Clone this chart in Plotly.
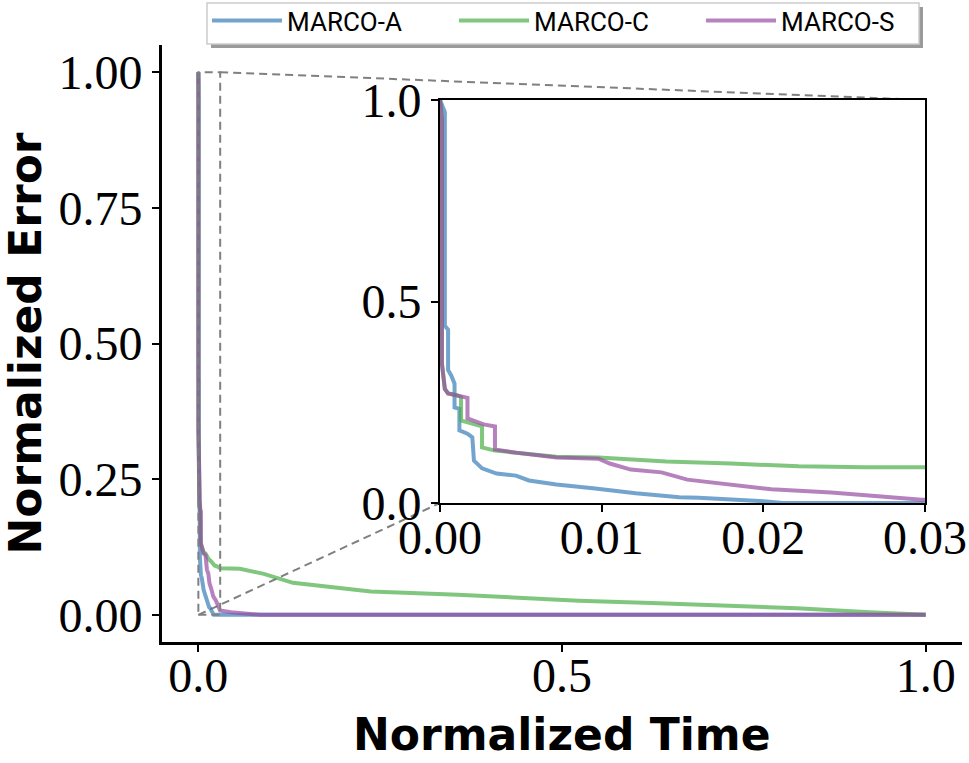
import plotly.graph_objects as go

# ---------------- data ----------------
series_names = ["MARCO-A", "MARCO-C", "MARCO-S"]

a_time = [0.0, 0.0003, 0.0003, 0.0005, 0.0005, 0.0007, 0.0009, 0.0009, 0.0012, 0.0012,
          0.0017, 0.0020, 0.0021, 0.0026, 0.0035, 0.0047, 0.0055, 0.0072, 0.0096, 0.0121,
          0.0148, 0.0160, 0.0202, 0.0212, 1.0]
a_error = [1.0, 0.97, 0.44, 0.43, 0.33, 0.316, 0.296, 0.237, 0.234, 0.180,
           0.172, 0.163, 0.105, 0.086, 0.073, 0.068, 0.056, 0.046, 0.036, 0.024,
           0.014, 0.013, 0.004, 0.0, 0.0]

c_time = [0.0, 0.00012, 0.00012, 0.0003, 0.0005, 0.001, 0.0013, 0.0013, 0.0026, 0.0026,
          0.0034, 0.0047, 0.0072, 0.0098, 0.014, 0.018, 0.0222, 0.0263, 0.0298, 0.057,
          0.09, 0.13, 0.163, 0.237, 0.357, 0.456, 0.523, 0.623, 0.723, 0.823, 0.923, 1.0]
c_error = [1.0, 0.95, 0.345, 0.283, 0.272, 0.268, 0.263, 0.205, 0.19, 0.138,
           0.13, 0.125, 0.115, 0.113, 0.103, 0.098, 0.091, 0.089, 0.086, 0.085,
           0.0755, 0.059, 0.054, 0.043, 0.037, 0.0295, 0.026, 0.022, 0.017, 0.012, 0.005, 0.0]

s_time = [0.0, 0.00012, 0.00012, 0.0003, 0.0005, 0.001, 0.0017, 0.0017, 0.0027, 0.0034,
          0.0034, 0.0047, 0.0072, 0.0098, 0.0105, 0.0118, 0.0137, 0.0153, 0.0177, 0.0205,
          0.0242, 0.027, 0.0298, 0.045, 0.068, 0.085, 1.0]
s_error = [1.0, 0.95, 0.345, 0.283, 0.272, 0.268, 0.261, 0.21, 0.195, 0.19,
           0.133, 0.125, 0.113, 0.11, 0.098, 0.083, 0.076, 0.058, 0.048, 0.034,
           0.026, 0.016, 0.008, 0.005, 0.002, 0.0, 0.0]

main_x_ticks = [0.0, 0.5, 1.0]
main_y_ticks = [0.0, 0.25, 0.5, 0.75, 1.0]
inset_x_ticks = [0.0, 0.01, 0.02, 0.03]
inset_y_ticks = [0.0, 0.5, 1.0]
x_title = "Normalized Time"
y_title = "Normalized Error"

# ---------------- styling / layout ----------------
colors = ["#377eb8", "#4daf4a", "#984ea3"]
W, H = 969, 763
L, R, T, B = 162, 7, 45, 121
pw, ph = W - L - R, H - T - B

main_xr = [-0.05, 1.05]
main_yr = [-0.05, 1.05]
inset_xr = [0.0, 0.03]
inset_yr = [0.0, 1.0]

# inset position in pixels (left, right, top, bottom)
ix0, ix1, iy0, iy1 = 440, 925, 100, 503
inset_xdom = [(ix0 - L) / pw, (ix1 - L) / pw]
inset_ydom = [(H - B - iy1) / ph, (H - B - iy0) / ph]

tick_font = dict(family="Liberation Serif", size=48, color="black")
title_font = dict(family="DejaVu Sans", size=44, color="black", weight="bold")


def px_x(p):
    return (p - L) / pw


def px_y(p):
    return (H - B - p) / ph


fig = go.Figure()
data = [(a_time, a_error), (c_time, c_error), (s_time, s_error)]
for name, (xs, ys), col in zip(series_names, data, colors):
    fig.add_trace(go.Scatter(x=xs, y=ys, mode="lines", name=name,
                             line=dict(color=col, width=4), opacity=0.7,
                             xaxis="x", yaxis="y"))
for name, (xs, ys), col in zip(series_names, data, colors):
    fig.add_trace(go.Scatter(x=xs, y=ys, mode="lines", name=name, showlegend=False,
                             line=dict(color=col, width=4), opacity=0.7,
                             xaxis="x2", yaxis="y2"))

fig.update_layout(
    width=W, height=H,
    margin=dict(l=L, r=R, t=T, b=B, autoexpand=False),
    plot_bgcolor="white", paper_bgcolor="white",
    xaxis=dict(domain=[0, 1], range=main_xr, tickvals=main_x_ticks,
               ticktext=[f"{v:.1f}" for v in main_x_ticks],
               showgrid=False, zeroline=False, showline=True, linecolor="black",
               linewidth=3, ticks="outside", ticklen=7, tickwidth=2, tickcolor="black",
               tickfont=tick_font, ticklabelstandoff=-18),
    yaxis=dict(domain=[0, 1], range=main_yr, tickvals=main_y_ticks,
               ticktext=[f"{v:.2f}" for v in main_y_ticks],
               showgrid=False, zeroline=False, showline=True, linecolor="black",
               linewidth=3, ticks="outside", ticklen=7, tickwidth=2, tickcolor="black",
               tickfont=tick_font,
               title=dict(text=y_title, font=title_font, standoff=16)),
    xaxis2=dict(domain=inset_xdom, anchor="y2", range=inset_xr, tickvals=inset_x_ticks,
                ticktext=[f"{v:.2f}" for v in inset_x_ticks],
                showgrid=False, zeroline=False, showline=True, mirror=True,
                linecolor="black", linewidth=2, ticks="outside", ticklen=7, tickwidth=2,
                tickcolor="black", tickfont=tick_font, ticklabelstandoff=-16),
    yaxis2=dict(domain=inset_ydom, anchor="x2", range=inset_yr, tickvals=inset_y_ticks,
                ticktext=[f"{v:.1f}" for v in inset_y_ticks],
                showgrid=False, zeroline=False, showline=True, mirror=True,
                linecolor="black", linewidth=2, ticks="outside", ticklen=7, tickwidth=2,
                tickcolor="black", tickfont=tick_font),
    legend=dict(orientation="h", x=px_x(207), xanchor="left",
                y=px_y(-3), yanchor="top",
                bgcolor="rgba(0,0,0,0)", borderwidth=0,
                font=dict(family="Roboto", size=26, color="black"),
                entrywidth=162, itemwidth=70),
    showlegend=True,
)

# x-axis title placed as in the reference
fig.add_annotation(text=x_title, xref="paper", yref="paper",
                   x=px_x(562), y=px_y(734),
                   xanchor="center", yanchor="middle", showarrow=False, font=title_font)

# --- zoom indicator: dashed rectangle and connectors (computed from ranges/domains) ---
def main_to_paper(x, y):
    px = (x - main_xr[0]) / (main_xr[1] - main_xr[0])
    py = (y - main_yr[0]) / (main_yr[1] - main_yr[0])
    return px, py

dash_line = dict(color="#808080", width=2, dash="8px,5px")
fig.add_shape(type="rect", xref="x", yref="y", x0=inset_xr[0], x1=inset_xr[1],
              y0=inset_yr[0], y1=inset_yr[1], line=dash_line, layer="above")
p_ur = main_to_paper(inset_xr[1], inset_yr[1])
p_ll = main_to_paper(inset_xr[0], inset_yr[0])
fig.add_shape(type="line", xref="paper", yref="paper", x0=p_ur[0], y0=p_ur[1],
              x1=inset_xdom[1], y1=inset_ydom[1], line=dash_line, layer="below")
fig.add_shape(type="line", xref="paper", yref="paper", x0=p_ll[0], y0=p_ll[1],
              x1=inset_xdom[0], y1=inset_ydom[0], line=dash_line, layer="below")

# legend frame with shadow (matplotlib-like)
lx0, lx1, ly0, ly1 = 207, 919, 3, 44
sh = 4
fig.add_shape(type="rect", xref="paper", yref="paper",
              x0=px_x(lx0 + sh), x1=px_x(lx1 + sh),
              y0=px_y(ly1 + sh), y1=px_y(ly0 + sh),
              fillcolor="#9a9a9a", line=dict(width=0), layer="above")
fig.add_shape(type="rect", xref="paper", yref="paper",
              x0=px_x(lx0), x1=px_x(lx1), y0=px_y(ly1), y1=px_y(ly0),
              fillcolor="white", line=dict(color="#cccccc", width=1.5), layer="above")

fig.write_html("out.html", config={"displayModeBar": False},
               post_script="document.body.style.margin='0px';")
